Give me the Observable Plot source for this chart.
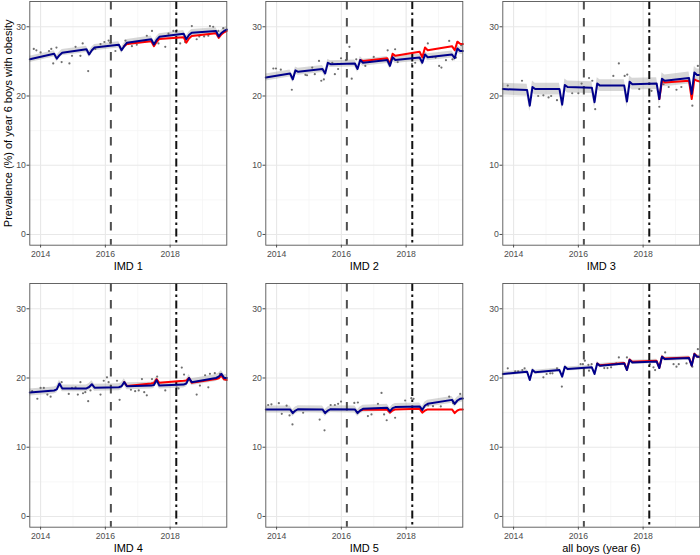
<!DOCTYPE html>
<html><head><meta charset="utf-8">
<script src="https://cdn.jsdelivr.net/npm/d3@7"></script>
<script src="https://cdn.jsdelivr.net/npm/@observablehq/plot@0.6"></script>
<style>
html,body{margin:0;padding:0;background:#fff;overflow:hidden;}
#chart{position:relative;width:700px;height:555px;overflow:hidden;font-family:"Liberation Sans",Arial,Helvetica,sans-serif;}
#chart > div{position:absolute;}
</style></head><body><div id="chart"></div>
<script>
// Vertices of the modelled lines (decimal years): Sep 2013, then Jun/Jul/Aug/Sep of each year, Oct 2019
const vertexX = [2013.667,
  2014.417, 2014.5, 2014.583, 2014.667,
  2015.417, 2015.5, 2015.583, 2015.667,
  2016.417, 2016.5, 2016.583, 2016.667,
  2017.417, 2017.5, 2017.583, 2017.667,
  2018.417, 2018.5, 2018.583, 2018.667,
  2019.417, 2019.5, 2019.583, 2019.667,
  2019.75];

const panelLabels = ["IMD 1", "IMD 2", "IMD 3", "IMD 4", "IMD 5", "all boys (year 6)"];
const yTitle = "Prevalence (%) of year 6 boys with obesity";
const announceX = 2016.17;   // dashed line
const implementX = 2018.19;  // dash-dot line
const xTicks = [2014, 2016, 2018];
const xMinorTicks = [2015, 2017, 2019];
const yTicks = [0, 10, 20, 30];
const yMinorTicks = [5, 15, 25];
const ciHalf = [0.45, 0.5, 0.85, 0.5, 0.5, 0.3];

// fitted (blue)
const imd1Fit = [25.3, 26.1, 25.4, 25.9, 26.25, 26.75, 26.0, 26.6, 27.0, 27.4, 26.6, 27.2, 27.7, 28.2, 27.45, 28.1, 28.55, 29.0, 28.2, 28.8, 29.15, 29.4, 28.6, 29.1, 29.4, 29.6];
const imd2Fit = [22.67, 23.25, 22.4, 23.7, 23.5, 23.9, 23.25, 24.8, 24.6, 24.7, 23.9, 25.2, 24.8, 25.2, 24.35, 25.6, 25.2, 25.55, 24.8, 26.0, 25.6, 26.0, 25.45, 26.85, 26.5, 26.5];
const imd3Fit = [21.0, 20.85, 18.6, 21.3, 21.0, 21.0, 18.75, 21.6, 21.3, 21.2, 19.1, 21.8, 21.5, 21.5, 19.2, 22.05, 21.7, 21.8, 19.55, 22.5, 22.2, 22.6, 20.3, 23.4, 23.05, 23.05];
const imd4Fit = [17.9, 18.2, 18.35, 19.2, 18.5, 18.5, 18.7, 19.1, 18.6, 18.66, 18.8, 19.4, 18.8, 18.9, 19.0, 19.7, 18.9, 19.05, 19.2, 20.0, 19.4, 20.0, 20.2, 20.6, 20.0, 20.0];
const imd5Fit = [15.46, 15.46, 14.93, 15.3, 15.5, 15.46, 14.93, 15.3, 15.5, 15.46, 14.93, 15.3, 15.55, 15.7, 15.17, 15.65, 15.8, 15.9, 15.4, 16.03, 16.27, 16.84, 16.27, 16.75, 16.99, 17.03];
const allFit  = [20.58, 20.9, 19.72, 21.15, 20.82, 21.15, 20.2, 21.63, 21.3, 21.54, 20.58, 22.1, 21.78, 22.1, 21.15, 22.6, 22.25, 22.4, 21.44, 23.07, 22.73, 22.88, 21.78, 23.45, 23.07, 23.07];

// counterfactual (red)
const imd1Cf = [null, null, null, null, null, null, null, null, null, null, null, 27.2, 27.5, 27.9, 27.2, 27.8, 28.25, 28.5, 27.7, 28.3, 28.65, 29.05, 28.4, 28.9, 29.2, 29.4];
const imd2Cf = [null, null, null, null, null, null, null, null, null, null, null, 25.2, 25.05, 25.45, 24.6, 26.1, 25.8, 26.4, 25.6, 27.0, 26.6, 27.2, 26.6, 27.85, 27.55, 27.5];
const imd3Cf = [null, null, null, null, null, null, null, null, null, null, null, null, null, null, null, null, null, null, 19.55, 22.2, 21.95, 22.2, 19.55, 22.4, 22.2, 22.1];
const imd4Cf = [null, null, null, null, null, null, null, null, null, null, null, 19.4, 18.85, 19.2, 19.3, 19.85, 19.3, 19.6, 19.65, 20.0, 19.3, 19.85, 19.95, 20.35, 19.8, 19.7];
const imd5Cf = [null, null, null, null, null, null, null, null, null, null, null, 15.3, 15.4, 15.4, 15.0, 15.3, 15.46, 15.55, 15.0, 15.3, 15.46, 15.46, 14.93, 15.3, 15.46, 15.46];
const allCf  = [null, null, null, null, null, null, null, null, null, null, null, 22.1, 21.83, 22.18, 21.2, 22.68, 22.33, 22.48, 21.48, 23.1, 22.8, 22.95, 21.82, 23.5, 23.1, 23.05];

// observed points
const imd1PtX = [2013.79, 2013.87, 2014.0, 2014.26, 2014.33, 2014.49, 2014.39, 2014.65, 2014.89, 2014.97, 2015.08, 2015.23, 2015.3, 2015.47, 2015.69, 2015.85, 2015.97, 2016.1, 2016.15, 2016.31, 2016.62, 2016.7, 2016.82, 2016.97, 2017.28, 2017.44, 2017.64, 2017.85, 2017.95, 2018.1, 2018.2, 2018.31, 2018.46, 2018.67, 2018.82, 2018.9, 2019.05, 2019.18, 2019.23, 2019.33, 2019.49, 2019.64];
const imd1PtY = [26.8, 26.6, 26.3, 26.5, 26.8, 27.0, 24.7, 24.9, 24.7, 25.8, 27.1, 25.8, 27.6, 23.6, 26.8, 27.5, 27.8, 28.0, 27.7, 26.5, 28.0, 27.5, 27.2, 27.4, 28.7, 29.4, 27.6, 27.1, 29.0, 29.4, 29.5, 27.6, 27.8, 30.1, 28.2, 28.6, 28.6, 28.7, 30.1, 30.0, 29.4, 29.8];
const imd2PtX = [2013.9, 2013.98, 2014.13, 2014.47, 2014.89, 2014.94, 2015.1, 2015.18, 2015.31, 2015.38, 2015.46, 2015.72, 2015.8, 2015.9, 2015.99, 2016.14, 2016.25, 2016.32, 2016.46, 2016.74, 2017.0, 2017.43, 2017.66, 2017.74, 2018.18, 2018.28, 2018.67, 2018.81, 2018.91, 2019.02, 2019.09, 2019.23, 2019.33, 2019.43, 2019.54, 2019.7];
const imd2PtY = [23.97, 23.97, 23.8, 20.9, 23.06, 23.0, 24.1, 23.15, 25.07, 22.2, 22.4, 24.8, 23.15, 23.9, 25.45, 25.17, 27.1, 22.5, 25.3, 24.35, 25.65, 26.6, 26.75, 24.9, 24.6, 24.8, 27.6, 25.65, 25.55, 24.35, 24.1, 25.17, 27.95, 25.3, 25.55, 27.3];
const imd3PtX = [2013.82, 2014.26, 2014.76, 2014.92, 2015.08, 2015.16, 2015.34, 2015.81, 2016.0, 2016.1, 2016.33, 2016.43, 2016.52, 2017.08, 2017.25, 2017.43, 2017.51, 2017.88, 2018.26, 2018.5, 2018.63, 2018.79, 2019.03, 2019.18, 2019.52, 2019.69];
const imd3PtY = [21.5, 22.2, 20.0, 20.1, 19.8, 20.0, 19.4, 20.4, 20.4, 21.8, 22.6, 22.2, 18.1, 22.9, 24.7, 22.9, 23.1, 21.0, 20.75, 18.45, 21.7, 21.3, 20.9, 21.3, 18.6, 24.35];
const imd4PtX = [2013.74, 2013.9, 2014.0, 2014.1, 2014.21, 2014.31, 2014.65, 2014.87, 2014.97, 2015.08, 2015.15, 2015.23, 2015.31, 2015.38, 2015.47, 2015.54, 2015.85, 2015.95, 2016.05, 2016.1, 2016.17, 2016.36, 2016.44, 2016.79, 2016.92, 2017.03, 2017.13, 2017.2, 2017.28, 2017.44, 2017.6, 2017.85, 2018.2, 2018.26, 2018.36, 2018.43, 2018.82, 2018.92, 2019.08, 2019.18, 2019.23, 2019.38, 2019.54, 2019.64];
const imd4PtY = [18.1, 17.0, 18.57, 18.57, 17.6, 17.3, 19.4, 17.7, 18.57, 18.66, 17.6, 19.4, 17.8, 17.95, 16.65, 18.2, 17.6, 19.6, 20.1, 19.4, 18.9, 19.6, 16.85, 18.3, 18.1, 18.2, 19.85, 17.95, 17.5, 19.85, 20.2, 18.2, 18.66, 18.5, 21.5, 20.5, 17.6, 18.9, 20.4, 18.66, 20.6, 20.7, 20.6, 20.2];
const imd5PtX = [2013.74, 2013.84, 2014.07, 2014.16, 2014.31, 2014.4, 2014.49, 2014.82, 2015.33, 2015.48, 2015.67, 2015.8, 2015.9, 2015.99, 2016.4, 2016.51, 2016.82, 2016.93, 2017.13, 2017.24, 2017.32, 2017.4, 2017.66, 2017.97, 2018.16, 2018.23, 2018.68, 2018.83, 2019.07, 2019.33, 2019.45, 2019.67];
const imd5PtY = [16.1, 16.2, 16.36, 14.83, 16.0, 14.6, 13.3, 14.98, 14.0, 12.44, 16.1, 16.1, 16.27, 16.6, 16.4, 16.46, 14.5, 14.74, 16.27, 17.85, 14.74, 13.9, 14.26, 16.75, 17.08, 16.99, 16.03, 15.93, 15.9, 17.3, 16.36, 17.7];
const allPtX = [2013.82, 2014.05, 2014.14, 2014.27, 2014.34, 2014.92, 2015.02, 2015.13, 2015.2, 2015.34, 2015.49, 2016.07, 2016.14, 2016.2, 2016.31, 2016.33, 2016.41, 2016.8, 2016.9, 2017.01, 2017.17, 2017.25, 2017.5, 2018.21, 2018.32, 2018.37, 2018.68, 2018.94, 2019.03, 2019.1, 2019.34, 2019.52, 2019.69];
const allPtY = [21.4, 20.96, 20.96, 21.15, 21.4, 20.1, 20.58, 20.67, 20.67, 21.4, 18.76, 22.0, 22.0, 22.5, 21.9, 21.06, 22.0, 21.44, 21.44, 21.54, 22.1, 22.97, 22.97, 22.0, 21.54, 21.15, 23.7, 22.0, 21.63, 22.0, 22.1, 21.63, 24.17];

const fits = [imd1Fit, imd2Fit, imd3Fit, imd4Fit, imd5Fit, allFit];
const cfs = [imd1Cf, imd2Cf, imd3Cf, imd4Cf, imd5Cf, allCf];
const ptXs = [imd1PtX, imd2PtX, imd3PtX, imd4PtX, imd5PtX, allPtX];
const ptYs = [imd1PtY, imd2PtY, imd3PtY, imd4PtY, imd5PtY, allPtY];

const xDomain = [2013.667, 2019.75];
const yDomain = [-1.55, 33.65];

const colLeft = [29.3, 265.7, 502.3];
const rowTop = [1, 283.3];
const panelW = 197, panelH = 243.7;
const mL = 29.3, mR = 0.7, mT = 1, mB = 28;
const font = '"Liberation Sans", Arial, Helvetica, sans-serif';

const chart = document.getElementById("chart");
const vIdx = d3.range(vertexX.length);

panelLabels.forEach((label, p) => {
  const col = p % 3, row = Math.floor(p / 3);
  const fit = fits[p], cf = cfs[p], px = ptXs[p], py = ptYs[p], ci = ciHalf[p];
  const pIdx = d3.range(px.length);
  const marks = [
    Plot.gridX(xMinorTicks, {stroke: "#f3f3f3", strokeOpacity: 1, strokeWidth: 0.7}),
    Plot.gridY(yMinorTicks, {stroke: "#f3f3f3", strokeOpacity: 1, strokeWidth: 0.7}),
    Plot.gridX(xTicks, {stroke: "#e8e8e8", strokeOpacity: 1, strokeWidth: 1.1}),
    Plot.gridY(yTicks, {stroke: "#e8e8e8", strokeOpacity: 1, strokeWidth: 1.1}),
    Plot.areaY(vIdx, {x: i => vertexX[i], y1: i => fit[i] - ci, y2: i => fit[i] + ci, fill: "#9a9a9a", fillOpacity: 0.4, curve: "linear"}),
    Plot.dot(pIdx, {x: i => px[i], y: i => py[i], r: 1.1, fill: "#707070", stroke: null}),
    Plot.ruleX([announceX], {stroke: "#4f4f4f", strokeWidth: 2, strokeDasharray: "8.5,8.5"}),
    Plot.ruleX([implementX], {stroke: "#111111", strokeWidth: 2, strokeDasharray: "8,3.5,2.5,3.5"}),
    Plot.line(vIdx, {x: i => vertexX[i], y: i => cf[i], stroke: "#ff0000", strokeWidth: 2}),
    Plot.line(vIdx, {x: i => vertexX[i], y: i => fit[i], stroke: "#00008b", strokeWidth: 2}),
    Plot.frame({stroke: "#555555", strokeWidth: 0.9}),
    Plot.axisX({ticks: xTicks, tickFormat: "d", tickSize: 2.8, tickPadding: 3, fontSize: 8.7, color: "#4d4d4d", label: null}),
    Plot.axisY({ticks: yTicks, tickSize: 2.8, tickPadding: 1.2, fontSize: 8.7, color: "#4d4d4d", label: null}),
    Plot.text([label], {frameAnchor: "bottom", dy: 21.5, text: d => d, fontSize: 11, fill: "black", textAnchor: "middle", lineAnchor: "middle"})
  ];
  if (p === 0) {
    marks.push(Plot.text([yTitle], {frameAnchor: "left", dx: -21, rotate: -90, text: d => d, fontSize: 11, fill: "black", textAnchor: "middle", lineAnchor: "middle"}));
  }
  const svg = Plot.plot({
    width: mL + panelW + mR,
    height: mT + panelH + mB,
    marginLeft: mL, marginRight: mR, marginTop: mT, marginBottom: mB,
    x: {domain: xDomain},
    y: {domain: yDomain},
    style: {fontFamily: font, background: "transparent", overflow: "visible"},
    marks
  });
  const div = document.createElement("div");
  div.style.left = (colLeft[col] - mL) + "px";
  div.style.top = (rowTop[row] - mT) + "px";
  div.appendChild(svg);
  chart.appendChild(div);
});
</script>
</body></html>
